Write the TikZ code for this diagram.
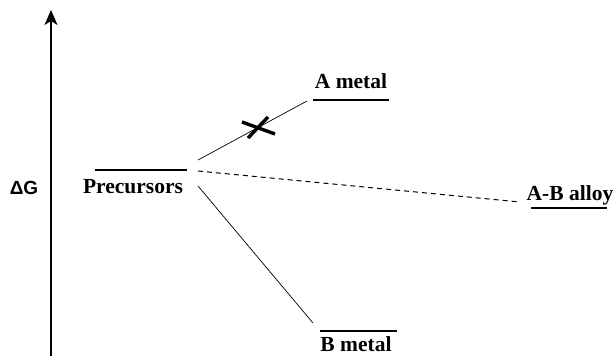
\documentclass[tikz,border=0pt]{standalone}
\usepackage{fontspec}
\setmainfont{Liberation Serif}
\newfontfamily\axisfont{Liberation Sans}
\usetikzlibrary{arrows.meta, positioning}

\tikzset{
  level/.style={line width=2.6pt},
  levellabel/.style={font=\fontsize{21.5}{24}\selectfont\bfseries, anchor=base, inner sep=0pt},
  path/.style={line width=0.7pt},
}

\begin{document}
\begin{tikzpicture}[x=1pt, y=-1pt]
    \useasboundingbox (0,0) rectangle (614,356);

    % Axis
    \coordinate (axisbot) at (51,356);
    \coordinate (axistop) at (51,10);
    \draw[line width=1.4pt, -{Stealth[length=15pt, width=13pt, inset=4pt]}] (axisbot) -- (axistop);
    \node[font=\axisfont\bfseries\fontsize{19}{22}\selectfont, anchor=base, inner sep=0pt] (dG) at (24,194) {ΔG};

    % Energy levels
    \draw[level] (95,170) -- (187,170);
    \draw[level] (313,100) -- (389,100);
    \draw[level] (531,208) -- (607,208);
    \draw[level] (320,331) -- (397,331);

    \node[levellabel] (prec) at (133,193) {Precursors};
    \node[levellabel] (ametal) at (351,88) {A metal};
    \node[levellabel] (alloy) at (570,200) {A-B alloy};
    \node[levellabel] (bmetal) at (356,351) {B metal};

    % Paths
    \coordinate (pa) at (198,160);
    \coordinate (pd) at (198,171);
    \coordinate (pb) at (198,186);
    \coordinate (ea) at (307,101);
    \coordinate (ed) at (520,202);
    \coordinate (eb) at (313,323);
    \draw[path] (pa) -- (ea);
    \draw[path, dash pattern=on 5pt off 4pt, line width=1pt] (pd) -- (ed);
    \draw[path] (pb) -- (eb);

    % Blocked route
    \draw[line width=3.4pt] (242,122) -- (275,134);
    \draw[line width=3.4pt] (248,138) -- (268,117);
\end{tikzpicture}
\end{document}
